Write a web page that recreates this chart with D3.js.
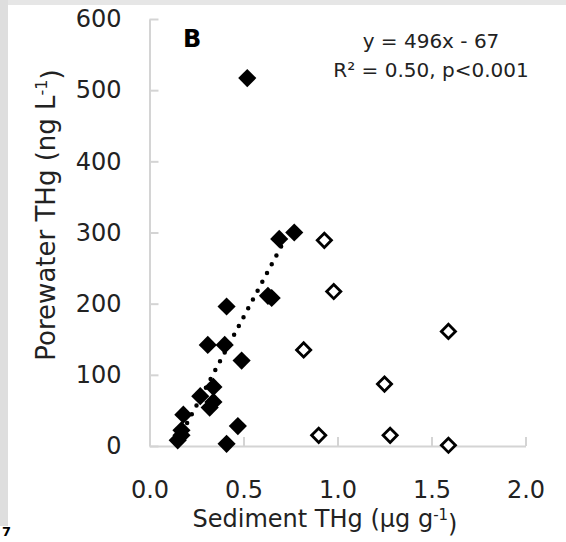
<!DOCTYPE html>
<html>
<head>
<meta charset="utf-8">
<script src="https://cdn.jsdelivr.net/npm/d3@7"></script>
<style>
  body { margin: 0; background: #fff; }
  svg { display: block; font-family: "DejaVu Sans", sans-serif; }
</style>
</head>
<body>
<svg id="chart"></svg>
<script>
// sediment THg (x) vs porewater THg (y)
const filledX = [0.52, 0.69, 0.77, 0.63, 0.65, 0.41, 0.31, 0.40, 0.49, 0.34, 0.27, 0.34, 0.32, 0.18, 0.17, 0.17, 0.15, 0.47, 0.41];
const filledY = [517, 291, 300, 211, 208, 196, 142, 142, 120, 83, 70, 62, 54, 44, 22, 15, 8, 28, 3];
const openX = [0.93, 0.98, 1.59, 0.82, 1.25, 0.90, 1.28, 1.59];
const openY = [289, 217, 161, 135, 87, 15, 15, 1];

const xTicks = [0, 0.5, 1.0, 1.5, 2.0];
const yTicks = [0, 100, 200, 300, 400, 500, 600];

// trend line y = 496x - 67 over the filled points
const fitSlope = 496, fitIntercept = -67;
const fitRange = [0.15, 0.71];

const width = 566, height = 542;

const svg = d3.select("#chart")
    .attr("width", width)
    .attr("height", height);

// light grey frame strips from the scanned page
svg.append("rect").attr("x", 0).attr("y", 0).attr("width", width).attr("height", 5).attr("fill", "#e6e6e6");
svg.append("rect").attr("x", 0).attr("y", 0).attr("width", 8).attr("height", 526).attr("fill", "#dedede");

const x = d3.scaleLinear().domain([0, 2]).range([149.5, 525.5]);
const y = d3.scaleLinear().domain([0, 600]).range([446, 19]);

// axes, ticks point inward
svg.append("g")
    .attr("transform", `translate(${x(0)},0)`)
    .call(d3.axisLeft(y).tickValues(yTicks).tickFormat(d3.format("d"))
        .tickSizeInner(-9).tickSizeOuter(0).tickPadding(28));

svg.append("g")
    .attr("transform", `translate(0,${y(0)})`)
    .call(d3.axisBottom(x).tickValues(xTicks).tickFormat(d3.format(".1f"))
        .tickSizeInner(-9).tickSizeOuter(0).tickPadding(35));

svg.selectAll(".domain, .tick line")
    .attr("stroke", "#d4d4d4")
    .attr("stroke-width", 2);
svg.selectAll(".tick text")
    .attr("fill", "#222")
    .style("font-family", "DejaVu Sans, sans-serif")
    .style("font-size", "24px");

// dotted regression line
const fitLine = d3.line()
    .x(d => x(d))
    .y(d => y(fitSlope * d + fitIntercept));

svg.append("path")
    .datum(fitRange)
    .attr("d", fitLine)
    .attr("fill", "none")
    .attr("stroke", "#000")
    .attr("stroke-width", 4.5)
    .attr("stroke-linecap", "round")
    .attr("stroke-dasharray", "0 10");

const diamond = d3.symbol().type(d3.symbolSquare);

svg.append("g")
    .selectAll("path")
    .data(openX.map((v, i) => [v, openY[i]]))
    .join("path")
    .attr("d", diamond.size(100)())
    .attr("transform", d => `translate(${x(d[0])},${y(d[1])}) rotate(45)`)
    .attr("fill", "#fff")
    .attr("stroke", "#000")
    .attr("stroke-width", 2.8);

svg.append("g")
    .selectAll("path")
    .data(filledX.map((v, i) => [v, filledY[i]]))
    .join("path")
    .attr("d", diamond.size(165)())
    .attr("transform", d => `translate(${x(d[0])},${y(d[1])}) rotate(45)`)
    .attr("fill", "#000");

// axis titles
const yTitle = svg.append("text")
    .attr("transform", "translate(55,215) rotate(-90)")
    .attr("text-anchor", "middle")
    .attr("fill", "#222")
    .style("font-size", "26px");
yTitle.append("tspan").text("Porewater THg (ng L");
yTitle.append("tspan").attr("dy", "-0.5em").style("font-size", "16px").text("-1");
yTitle.append("tspan").attr("dy", "0.5em").text(")");

const xTitle = svg.append("text")
    .attr("x", 325)
    .attr("y", 527)
    .attr("text-anchor", "middle")
    .attr("fill", "#222")
    .style("font-size", "24px");
xTitle.append("tspan").text("Sediment THg (μg g");
xTitle.append("tspan").attr("dy", "-0.5em").style("font-size", "15px").text("-1");
xTitle.append("tspan").attr("dy", "0.5em").text(")");

// panel letter and fit annotation
svg.append("text")
    .attr("x", 183).attr("y", 47)
    .attr("fill", "#000")
    .style("font-size", "24px")
    .style("font-weight", "bold")
    .text("B");

svg.append("text")
    .attr("x", 431).attr("y", 48)
    .attr("text-anchor", "middle")
    .attr("fill", "#222")
    .style("font-size", "20px")
    .text("y = 496x - 67");

svg.append("text")
    .attr("x", 431).attr("y", 77)
    .attr("text-anchor", "middle")
    .attr("fill", "#222")
    .style("font-size", "20px")
    .text("R² = 0.50, p<0.001");

// figure number at the bottom-left corner
svg.append("text")
    .attr("x", 2).attr("y", 536)
    .attr("fill", "#000")
    .style("font-size", "13px")
    .style("font-weight", "bold")
    .text("7");
</script>
</body>
</html>
